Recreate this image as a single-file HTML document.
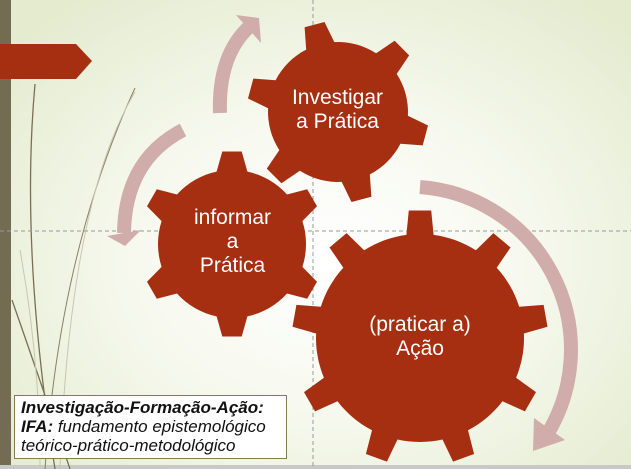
<!DOCTYPE html>
<html><head><meta charset="utf-8"><style>
html,body{margin:0;padding:0}
body{width:631px;height:469px;overflow:hidden;position:relative;font-family:"Liberation Sans","DejaVu Sans",sans-serif;
background:radial-gradient(ellipse 420px 330px at 330px 260px,#ffffff 0%,#f7f9ef 45%,#e4ebcf 100%);}
svg{position:absolute;left:0;top:0}
.box{position:absolute;left:14px;top:395px;border:1.5px solid #8b7a50;background:#fff;font-size:17px;line-height:19px;padding:2px 0 0 6px;box-sizing:border-box;font-style:italic;color:#111;width:273px;height:64px;white-space:nowrap}
.gt{position:absolute;color:#fff;font-size:21px;text-align:center;line-height:24px}
</style></head><body>
<svg width="631" height="469" viewBox="0 0 631 469">
<rect x="0" y="0" width="11" height="469" fill="#736b52"/>
<rect x="0" y="465" width="631" height="4" fill="#c8c8c8"/>
<g fill="none" stroke="#7a6f52" stroke-width="1.3">
<path d="M35 84 Q20 250 55 469"/>
<path d="M12 300 Q40 380 70 469"/>
<path d="M135 88 Q60 250 45 469" stroke="#8a7f62" stroke-width="1"/>
</g>
<g fill="none" stroke="#c9c6b0" stroke-width="1">
<path d="M135 92 Q70 200 60 469"/>
<path d="M20 250 Q40 360 40 469"/>
</g>
<polygon points="0,44 76,44 92,61 76,79 0,79" fill="#a52f10"/>
<g stroke="#999" stroke-width="1" stroke-dasharray="4,3">
<line x1="313" y1="0" x2="313" y2="466"/>
<line x1="0" y1="231" x2="631" y2="231"/>
</g>
<g id="gears" fill="#a52f10"></g>
<g fill="none" stroke="#d0acaa" stroke-width="14">
<path d="M220 113 Q218 55 250 26"/>
<path d="M183 130 Q125 160 124 233"/>
<path d="M420 187 A163 163 0 0 1 548 433"/>
</g>
<g fill="#d0acaa">
<polygon points="236,15 259,18 261,43"/>
<polygon points="107,236 141,230 125,246"/>
<polygon points="534,418 565,440 533,451"/>
</g>
</svg>
<div class="gt" style="left:270px;top:86px;width:135px">Investigar<br>a Prática</div>
<div class="gt" style="left:165px;top:206px;width:135px">informar<br>a<br>Prática</div>
<div class="gt" style="left:340px;top:313px;width:160px">(praticar a)<br>Ação</div>
<div class="box"><b>Investigação-Formação-Ação:</b><br><b>IFA:</b> fundamento epistemológico<br>teórico-prático-metodológico</div>
<script>
function gear(cx,cy,R,r,n,a0,hb,ht){
 var pts=[],d=Math.PI/180;
 for(var i=0;i<n;i++){
  var a=a0+i*360/n, an=a+360/n;
  pts.push([a-hb,r],[a-ht,R],[a+ht,R],[a+hb,r]);
  var steps=8;
  for(var s=1;s<steps;s++){var b=(a+hb)+((an-hb)-(a+hb))*s/steps;pts.push([b,r]);}
 }
 return pts.map(function(p,i){return (i?'L':'M')+(cx+p[1]*Math.cos(p[0]*d)).toFixed(1)+' '+(cy+p[1]*Math.sin(p[0]*d)).toFixed(1);}).join(' ')+'Z';
}
var g=document.getElementById('gears');
[[338,112,91,70,6,-105,12,6.5],[232,244,93,74,6,-90,12,6],[420,338,128,104,9,-90,7.5,5]].forEach(function(a){
 var p=document.createElementNS('http://www.w3.org/2000/svg','path');
 p.setAttribute('d',gear.apply(null,a));g.appendChild(p);
});
</script>
</body></html>
